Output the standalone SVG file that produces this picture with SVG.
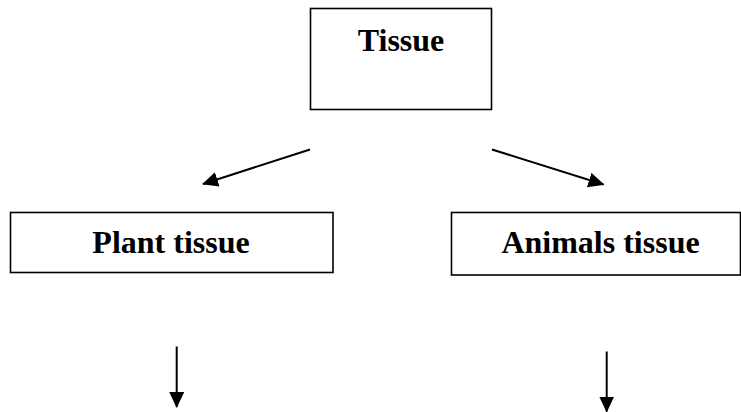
<svg xmlns="http://www.w3.org/2000/svg" width="741" height="412" viewBox="0 0 741 412">
<style>
.box{fill:#fff;stroke:#000;stroke-width:1.6}
.lbl{font-family:"Liberation Serif","Times New Roman",serif;font-weight:bold;font-size:32px;fill:#000;text-anchor:middle}
.conn{stroke:#000;stroke-width:2;fill:none;marker-end:url(#ah)}
</style>
<defs>
<marker id="ah" markerUnits="userSpaceOnUse" markerWidth="16" markerHeight="16" refX="15" refY="7.5" orient="auto" viewBox="0 0 16 15">
<path d="M0,0 L16,7.5 L0,15 z" fill="#000"/>
</marker>
</defs>
<rect width="741" height="412" fill="#fff"/>
<g id="node-tissue">
<rect class="box" x="310.5" y="8.5" width="181" height="101"/>
<text class="lbl" x="401" y="50.5">Tissue</text>
</g>
<g id="node-plant">
<rect class="box" x="10.5" y="212.5" width="322.5" height="60"/>
<text class="lbl" x="171" y="253">Plant tissue</text>
</g>
<g id="node-animals">
<rect class="box" x="451.5" y="212.5" width="289" height="62.5"/>
<text class="lbl" x="600.5" y="253">Animals tissue</text>
</g>
<g id="connectors">
<line class="conn" x1="310" y1="149.5" x2="203" y2="184"/>
<line class="conn" x1="492" y1="149.5" x2="603.5" y2="184.5"/>
<line class="conn" x1="176.7" y1="346.5" x2="176.7" y2="407"/>
<line class="conn" x1="606.7" y1="351.5" x2="606.7" y2="411.5"/>
</g>
</svg>
